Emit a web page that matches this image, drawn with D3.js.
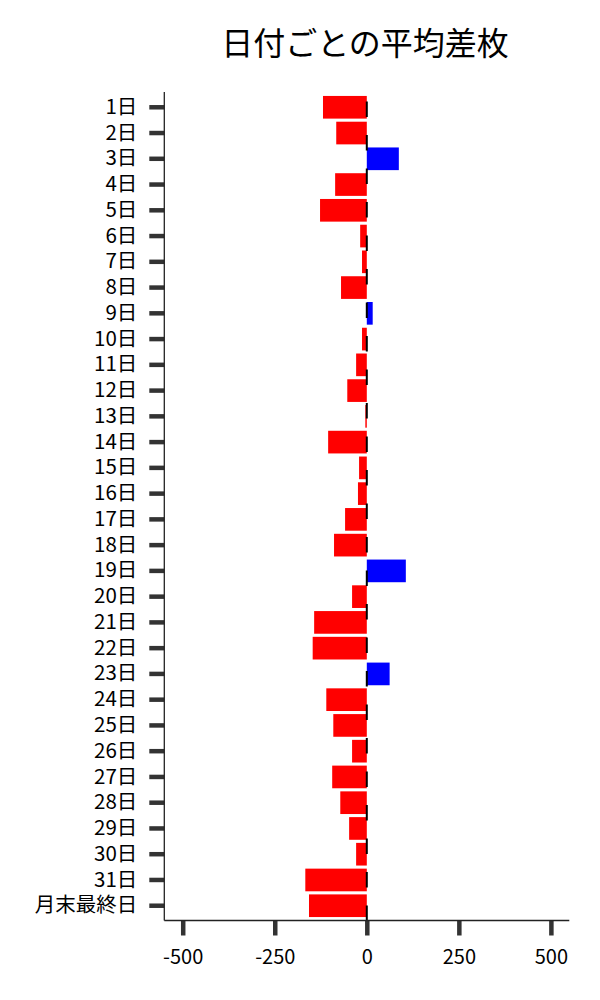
<!DOCTYPE html>
<html>
<head>
<meta charset="utf-8">
<script src="https://cdn.jsdelivr.net/npm/d3@7"></script>
<style>
  html, body { margin: 0; padding: 0; background: #fff; }
  svg { display: block; font-family: "Noto Sans CJK JP", "Noto Sans", sans-serif; }
</style>
</head>
<body>
<svg id="chart" width="600" height="1000"></svg>
<script>
const title = "日付ごとの平均差枚";
const categories = ["1日","2日","3日","4日","5日","6日","7日","8日","9日","10日",
  "11日","12日","13日","14日","15日","16日","17日","18日","19日","20日",
  "21日","22日","23日","24日","25日","26日","27日","28日","29日","30日",
  "31日","月末最終日"];
const values = [-119, -83, 87, -86, -127, -18, -13, -70, 16, -13,
  -29, -53, -4, -105, -21, -24, -59, -89, 106, -40,
  -143, -147, 62, -110, -91, -40, -94, -72, -48, -29,
  -167, -157];
const xTicks = [-500, -250, 0, 250, 500];
const xDomain = [-550, 550];

(function () {
const svg = d3.select("#chart");
const mLeft = 164.3, mRight = 569.3, mTop = 92, mBottom = 920.5;

const x = d3.scaleLinear().domain(xDomain).range([mLeft, mRight]);
const y = d3.scaleBand().domain(categories).range([94.4, 918.6])
  .paddingInner(0.12).paddingOuter(0.06);

// title
svg.append("text")
  .attr("x", 365).attr("y", 55)
  .attr("text-anchor", "middle")
  .attr("font-size", 32)
  .attr("fill", "#000")
  .text(title);

// bars
svg.append("g").selectAll("rect").data(values).join("rect")
  .attr("x", d => x(Math.min(0, d)))
  .attr("width", d => Math.abs(x(d) - x(0)))
  .attr("y", (d, i) => y(categories[i]))
  .attr("height", y.bandwidth())
  .attr("fill", d => d < 0 ? "#ff0000" : "#0000ff");

// zero dashed line (drawn bottom to top)
svg.append("line")
  .attr("x1", x(0)).attr("x2", x(0))
  .attr("y1", 921).attr("y2", mTop)
  .attr("stroke", "#000").attr("stroke-width", 2)
  .attr("stroke-dasharray", "15.5,18");

// y axis
const yAxis = svg.append("g").attr("transform", `translate(${mLeft},0)`)
  .call(d3.axisLeft(y).tickSize(15).tickPadding(12).tickSizeOuter(0));
yAxis.select(".domain").remove();
yAxis.selectAll(".tick line").attr("stroke", "#333").attr("stroke-width", 4.5);
yAxis.selectAll(".tick text").attr("font-size", 20.5).attr("fill", "#000")
  .attr("font-family", '"Noto Sans CJK JP", sans-serif');

// x axis
const xAxis = svg.append("g").attr("transform", `translate(0,${mBottom})`)
  .call(d3.axisBottom(x).tickValues(xTicks).tickFormat(d => String(d))
    .tickSize(15).tickPadding(14).tickSizeOuter(0));
xAxis.select(".domain").remove();
xAxis.selectAll(".tick line").attr("stroke", "#333").attr("stroke-width", 4.5);
xAxis.selectAll(".tick text").attr("font-size", 20).attr("fill", "#000")
  .attr("font-family", '"Noto Sans CJK JP", sans-serif');

// axis spines
svg.append("line").attr("x1", mLeft).attr("x2", mLeft).attr("y1", mTop).attr("y2", mBottom)
  .attr("stroke", "#222").attr("stroke-width", 1.3);
svg.append("line").attr("x1", mLeft).attr("x2", mRight).attr("y1", mBottom).attr("y2", mBottom)
  .attr("stroke", "#222").attr("stroke-width", 1.3);
})();
</script>
</body>
</html>
